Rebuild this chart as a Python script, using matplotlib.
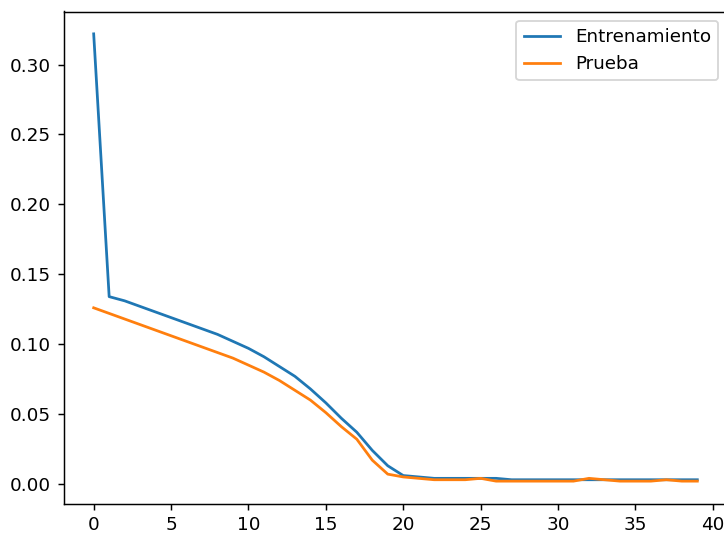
import matplotlib
matplotlib.use('Agg')
import matplotlib.pyplot as plt

# Pérdida por época
epocas = list(range(40))
perdida_entrenamiento = [0.322, 0.134, 0.131, 0.127, 0.123, 0.119, 0.115, 0.111, 0.107, 0.102,
                         0.097, 0.091, 0.084, 0.077, 0.068, 0.058, 0.047, 0.037, 0.024, 0.013,
                         0.006, 0.005, 0.004, 0.004, 0.004, 0.004, 0.004, 0.003, 0.003, 0.003,
                         0.003, 0.003, 0.003, 0.003, 0.003, 0.003, 0.003, 0.003, 0.003, 0.003]
perdida_prueba = [0.126, 0.122, 0.118, 0.114, 0.110, 0.106, 0.102, 0.098, 0.094, 0.090,
                  0.085, 0.080, 0.074, 0.067, 0.060, 0.051, 0.041, 0.032, 0.017, 0.007,
                  0.005, 0.004, 0.003, 0.003, 0.003, 0.004, 0.002, 0.002, 0.002, 0.002,
                  0.002, 0.002, 0.004, 0.003, 0.002, 0.002, 0.002, 0.003, 0.002, 0.002]

# la imagen original está recortada: el borde derecho del eje queda fuera
dpi = 132
fig = plt.figure(figsize=(724 / dpi, 533 / dpi), dpi=dpi)
ax = fig.add_axes([63.5 / 724, 1 - 503.5 / 533, (727.5 - 63.5) / 724, (503.5 - 11.5) / 533])
ax.plot(epocas, perdida_entrenamiento, label='Entrenamiento')
ax.plot(epocas, perdida_prueba, label='Prueba')
ax.legend()
fig.savefig('out.png', dpi=dpi)
